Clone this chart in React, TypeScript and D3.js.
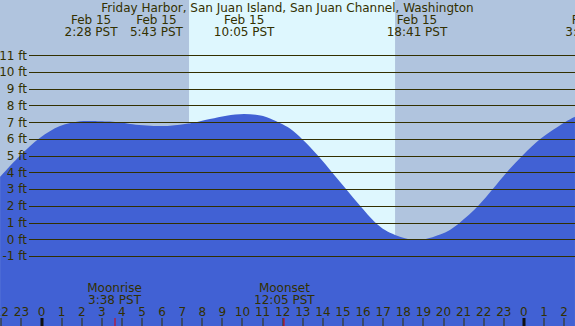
import React from "react";
import * as d3 from "d3";

const W = 575;
const H = 326;

const title = "Friday Harbor, San Juan Island, San Juan Channel, Washington";

// tide samples (hours from Feb 15 00:00, feet)
const tideHours = [-2.06, -1.07, -0.07, 0.92, 1.92, 2.47, 2.91, 3.9, 4.4, 5.72, 6.4, 7.39, 8.38, 9.2, 10.08, 10.9, 11.37, 12.36, 12.96, 13.76, 14.46, 15.15, 15.85, 16.59, 17.09, 17.59, 18.08, 18.68, 19.08, 19.83, 20.32, 20.82, 21.73, 22.45, 23.14, 23.97, 24.84, 26.04, 26.54];
const tideFeet = [3.74, 5.0, 6.07, 6.77, 7.05, 7.07, 7.05, 6.99, 6.89, 6.77, 6.79, 6.93, 7.19, 7.39, 7.49, 7.4, 7.22, 6.62, 6.0, 5.0, 4.0, 3.0, 2.0, 1.02, 0.55, 0.26, 0.06, -0.05, 0.0, 0.28, 0.56, 1.0, 2.0, 3.0, 4.0, 5.05, 6.02, 7.0, 7.33];

// high / low events
const eventHours = [2.467, 5.717, 10.083, 18.683, 27.38];
const eventDates = ["Feb 15", "Feb 15", "Feb 15", "Feb 15", "Feb 16"];
const eventTimes = ["2:28 PST", "5:43 PST", "10:05 PST", "18:41 PST", "3:23 PST"];

// moon events
const moonHours = [3.633, 12.083];
const moonNames = ["Moonrise", "Moonset"];
const moonTimes = ["3:38 PST", "12:05 PST"];

// daylight
const sunriseHour = 7.34;
const sunsetHour = 17.59;

const feetTicks = [-1, 0, 1, 2, 3, 4, 5, 6, 7, 8, 9, 10, 11];
const hourTicks = d3.range(-2, 27);

const NIGHT = "#b0c4de";
const DAY = "#def7fe";
const WATER = "#4161d4";
const INK = "#333000";
const FONT = "'DejaVu Sans', sans-serif";
const FS = 12;

export default function App() {
  const x = d3.scaleLinear().domain([-41.5 / 20.1, (W - 41.5) / 20.1]).range([0, W]);
  const y = d3.scaleLinear().domain([-1, 11]).range([256, 55.3]);

  const pts = tideHours.map((h, i) => [h, tideFeet[i]] as [number, number]);
  const area = d3
    .area<[number, number]>()
    .x((d) => x(d[0]))
    .y0(H)
    .y1((d) => y(d[1]))
    .curve(d3.curveCatmullRom.alpha(0.5))(pts) as string;

  return (
    <div style={{ position: "fixed", left: 0, top: 0 }}>
      <svg width={W} height={H} style={{ display: "block" }} fontFamily={FONT}>
        <rect x={0} y={0} width={W} height={H} fill={NIGHT} />
        <rect x={x(sunriseHour)} y={0} width={x(sunsetHour) - x(sunriseHour)} height={H} fill={DAY} />
        <path d={area} fill={WATER} />
        {feetTicks.map((f) => (
          <g key={f}>
            <line x1={29} x2={W} y1={Math.round(y(f)) + 0.5} y2={Math.round(y(f)) + 0.5} stroke={INK} strokeWidth={1} />
            <text x={27} y={y(f)} dy="0.36em" textAnchor="end" fontSize={FS} fill={INK}>
              {f} ft
            </text>
          </g>
        ))}
        <text x={W / 2} y={12} textAnchor="middle" fontSize={FS} fill={INK}>
          {title}
        </text>
        {eventHours.map((h, i) => (
          <g key={i}>
            <text x={x(h)} y={24} textAnchor="middle" fontSize={FS} fill={INK}>
              {eventDates[i]}
            </text>
            <text x={x(h)} y={36} textAnchor="middle" fontSize={FS} fill={INK}>
              {eventTimes[i]}
            </text>
          </g>
        ))}
        {moonHours.map((h, i) => (
          <g key={i}>
            <text x={x(h)} y={292} textAnchor="middle" fontSize={FS} fill={INK}>
              {moonNames[i]}
            </text>
            <text x={x(h)} y={304} textAnchor="middle" fontSize={FS} fill={INK}>
              {moonTimes[i]}
            </text>
          </g>
        ))}
        {hourTicks.map((h) => {
          const thick = h % 24 === 0;
          return (
            <g key={h}>
              <text x={x(h)} y={316} textAnchor="middle" fontSize={FS} fill={INK}>
                {((h % 24) + 24) % 24}
              </text>
              <rect
                x={thick ? Math.round(x(h)) - 1.5 : Math.round(x(h)) - 0.5}
                y={318}
                width={thick ? 3 : 1}
                height={H - 318}
                fill={thick ? "#111" : INK}
              />
            </g>
          );
        })}
        {moonHours.map((h, i) => (
          <rect key={"m" + i} x={Math.round(x(h)) - 0.5} y={318} width={1} height={H - 318} fill="#e00000" />
        ))}
      </svg>
    </div>
  );
}
